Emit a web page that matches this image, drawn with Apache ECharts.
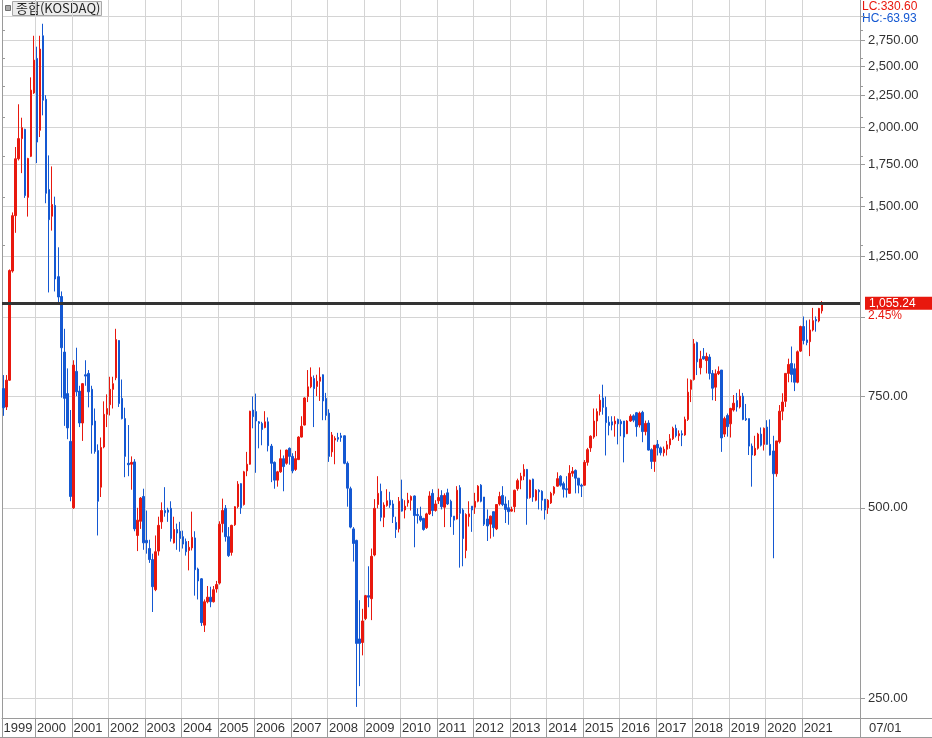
<!DOCTYPE html>
<html><head><meta charset="utf-8">
<script src="https://cdn.jsdelivr.net/npm/echarts@6/dist/echarts.min.js"></script>
<style>html,body{margin:0;padding:0;background:#fff}#chart{width:932px;height:738px}</style>
</head><body><div id="chart"></div>
<script>
// ---- data (monthly KOSDAQ candles, Feb 1999 .. Jul 2021) ----
const firstYear = 1999, firstMonth = 2;
const blankMonths = 12;
const open = [
772,722,796,1185,1450,1784,1920,1986,1550,1800,
2268,2572,1979,2793,2216,1595,1447,1505,1161,1080,
882,758,637,500,822,765,681,812,816,770,
686,616,539,624,703,728,770,803,920,745,
692,588,586,591,452,476,521,444,431,414,
371,427,475,495,496,499,440,462,459,450,
442,428,432,448,400,386,326,355,361,355,
372,380,472,499,450,425,470,502,546,506,
572,586,714,710,684,680,670,684,626,590,
553,570,598,588,621,603,575,596,647,676,
750,777,801,778,793,812,745,706,613,640,
646,650,650,588,536,463,444,310,306,334,
363,359,421,506,531,483,504,514,507,474,
463,516,496,509,514,522,488,485,481,465,
489,527,495,513,523,501,528,512,485,480,
538,496,428,484,503,501,512,543,520,480,
471,493,463,507,523,507,500,494,502,536,
553,561,575,519,555,514,533,531,516,500,
509,527,541,561,546,536,527,567,573,557,
543,543,590,622,647,686,710,746,721,683,
684,679,690,685,686,655,686,699,707,676,
708,660,681,618,592,630,622,611,619,629,
643,668,650,655,652,690,770,798,913,833,
868,855,866,816,776,815,826,654,700,679,
714,739,722,751,692,692,626,606,621,654,
630,671,630,615,566,636,711,737,816,846,
830,790,885,968,922,916,956,993,988,1025];
const close = [
720,796,1187,1450,1784,1920,1998,1560,1786,2291,
2556,1896,2661,2208,1573,1429,1510,1151,1078,896,
745,669,521,841,763,681,786,808,763,676,
614,512,623,703,718,770,786,923,731,692,
603,585,590,463,478,518,440,440,414,375,
426,469,495,491,492,447,462,456,447,438,
426,433,449,399,383,329,355,361,355,371,
378,471,495,450,420,469,502,545,500,570,
586,711,697,686,680,665,684,627,588,553,
570,598,581,617,603,572,598,647,673,746,
777,805,772,793,805,738,700,603,652,644,
642,646,588,537,466,439,305,305,331,363,
361,419,499,527,483,505,513,505,484,462,
512,494,503,514,521,486,486,478,462,489,
522,495,507,519,502,523,507,484,478,533,
490,447,488,489,496,512,541,512,471,468,
485,465,506,521,506,497,493,497,533,552,
561,575,517,553,520,533,530,514,496,514,
527,539,556,543,535,534,567,571,557,543,
541,590,618,649,686,710,740,721,682,675,
676,686,679,679,647,686,698,688,672,706,
660,680,617,592,628,622,611,619,629,643,
668,650,655,652,690,762,796,909,851,860,
860,868,816,773,815,822,645,692,672,718,
732,722,751,690,689,626,606,621,654,628,
668,630,606,566,638,711,735,816,843,813,
790,883,968,920,913,956,989,988,1034,1055];
const low = [
699,714,794,1178,1362,1773,1693,1547,1445,1795,
2260,1756,1931,2090,1517,1096,1373,1100,1058,747,
674,642,512,498,751,671,638,780,721,609,
609,452,520,621,671,700,718,796,722,690,
559,561,534,459,427,463,429,423,409,342,
369,420,463,484,475,442,439,429,426,431,
420,398,428,363,358,325,318,353,348,354,
367,378,457,442,418,420,468,499,489,504,
561,585,668,568,621,628,668,614,549,536,
540,568,531,585,585,567,572,595,646,675,
735,773,671,751,738,688,688,591,602,586,
636,636,586,502,464,411,242,261,292,332,
348,332,419,499,476,466,502,500,473,448,
457,493,481,502,495,433,472,475,460,463,
487,485,493,507,497,466,505,466,453,479,
402,404,416,467,458,489,510,510,468,443,
447,450,461,504,503,473,470,493,492,532,
535,553,470,517,511,512,497,495,479,489,
507,523,540,540,519,519,526,560,527,527,
520,542,583,613,643,649,700,702,605,651,
663,648,630,649,590,654,684,683,648,670,
635,651,616,576,570,605,605,603,605,620,
640,646,638,626,650,686,735,795,811,813,
858,816,798,740,738,811,613,647,648,646,
710,710,718,688,686,606,540,604,618,625,
616,629,605,416,560,632,688,722,790,790,
765,787,882,907,904,869,951,950,983,1015];
const high = [
811,811,1192,1467,1862,2176,2072,1990,1790,2400,
2793,2684,2793,2918,2249,1806,1735,1554,1292,1100,
960,831,714,856,896,780,788,856,826,780,
718,630,646,737,756,806,806,960,921,798,
720,676,603,597,500,520,536,495,445,423,
452,484,510,539,500,512,484,472,475,460,
447,443,493,459,402,387,358,376,375,376,
383,476,517,505,466,470,503,551,547,572,
613,712,750,758,686,684,711,695,631,592,
572,618,605,618,623,610,615,649,698,748,
826,834,810,812,834,813,760,716,659,649,
657,657,651,592,540,466,445,357,346,364,
404,431,516,561,546,510,535,530,514,484,
520,554,514,528,523,523,499,502,482,491,
531,535,514,536,533,527,536,515,485,541,
543,499,490,512,503,528,543,545,520,497,
486,493,506,530,541,521,514,502,534,556,
568,586,576,554,556,535,535,533,516,516,
530,541,569,563,550,561,584,580,575,557,
546,595,622,651,718,718,756,783,750,698,
698,698,692,690,686,688,703,703,709,710,
712,687,688,621,628,640,625,625,638,654,
672,677,663,663,697,801,798,925,916,886,
895,880,875,826,828,837,826,697,705,720,
754,760,770,760,730,692,632,650,657,670,
670,688,690,650,638,727,759,817,861,900,
846,887,971,1004,990,993,1036,1004,1036,1062];
const gridValues = [250,500,750,1000,1250,1500,1750,2000,2250,2500,2750,3000];
const labelValues = [250,500,750,1250,1500,1750,2000,2250,2500,2750];
const minorTickValues = [1300,1550,1800,2075,2325,2575,2850];
const axisMinValue = 232.4, axisMaxValue = 3182;
const lastPrice = 1055.24;
const lastChangeText = '2.45%';
const lcText = 'LC:330.60', hcText = 'HC:-63.93';
const dateText = '07/01';
const titleText = '종합(KOSDAQ)';

// ---- build ----
const RED = '#e8180e', BLUE = '#1458d2';
const L = Math.log;
const cats = [];
for (let k = 0; k < open.length + blankMonths; k++) {
  const m = firstMonth - 1 + k;
  const y = firstYear + Math.floor(m / 12);
  const mm = (m % 12) + 1;
  cats.push(y + '-' + (mm < 10 ? '0' + mm : '' + mm));
}
const isYearStart = (idx, val) => idx < open.length && (idx === 0 || String(val).endsWith('-01'));
const fmt = v => (Math.round(v * 100) / 100).toLocaleString('en-US', {minimumFractionDigits: 2, maximumFractionDigits: 2});
const candles = open.map((o, i) => [L(o), L(close[i]), L(low[i]), L(high[i])]);
const yMin = L(axisMinValue), yMax = L(axisMaxValue);
const AX = '#9a9a9a', GRIDC = '#d4d4d4';
const sansFont = '"Liberation Sans", Arial, sans-serif';

const chart = echarts.init(document.getElementById('chart'), null, {renderer: 'canvas'});
chart.setOption({
  animation: false,
  backgroundColor: '#ffffff',
  grid: {left: 2, right: 72, top: 0, bottom: 20, containLabel: false, outerBoundsMode: 'none'},
  xAxis: {
    type: 'category', data: cats, boundaryGap: true,
    axisLine: {show: true, lineStyle: {color: AX, width: 1}},
    axisTick: {show: true, interval: isYearStart, length: 20, lineStyle: {color: AX}},
    axisLabel: {interval: isYearStart, formatter: v => v.slice(0, 4), align: 'left', margin: 4,
      fontSize: 13, lineHeight: 13, fontFamily: sansFont, color: '#333',
      hideOverlap: false, showMinLabel: true, showMaxLabel: true},
    splitLine: {show: true, interval: isYearStart, lineStyle: {color: GRIDC, width: 1}}
  },
  yAxis: [
    {type: 'value', position: 'right', min: yMin, max: yMax,
      axisLine: {show: true, lineStyle: {color: AX}},
      axisTick: {show: true, customValues: gridValues.map(L), length: 5, lineStyle: {color: AX}},
      axisLabel: {show: true, customValues: labelValues.map(L), formatter: v => fmt(Math.exp(v)),
        margin: 8, fontSize: 13, fontFamily: sansFont, color: '#333'},
      splitLine: {show: true, lineStyle: {color: GRIDC, width: 1}}},
    {type: 'value', position: 'right', min: yMin, max: yMax,
      axisLine: {show: false},
      axisTick: {show: true, customValues: minorTickValues.map(L), length: 3, lineStyle: {color: AX}},
      axisLabel: {show: false}, splitLine: {show: false}},
    {type: 'value', position: 'left', min: yMin, max: yMax,
      axisLine: {show: true, lineStyle: {color: AX}},
      axisTick: {show: true, inside: true, customValues: minorTickValues.map(L), length: 3, lineStyle: {color: AX}},
      axisLabel: {show: false}, splitLine: {show: false}}
  ],
  series: [{
    type: 'candlestick', yAxisIndex: 0, data: candles, barWidth: 2,
    itemStyle: {color: RED, color0: BLUE, borderColor: RED, borderColor0: BLUE, borderWidth: 1},
    markLine: {
      symbol: 'none', silent: true, animation: false,
      data: [{yAxis: L(lastPrice)}],
      lineStyle: {color: '#333333', width: 3, type: 'solid'},
      label: {show: true, position: 'end', distance: 5, formatter: fmt(lastPrice),
        color: '#ffffff', backgroundColor: RED, padding: [1, 19, 0, 4], fontSize: 12, lineHeight: 12,
        fontFamily: sansFont}
    }
  }],
  graphic: [
    {type: 'rect', shape: {x: 5.5, y: 5.5, width: 5, height: 5}, style: {fill: '#a8a8a8', stroke: '#707070', lineWidth: 1}},
    {type: 'rect', shape: {x: 12.5, y: 1.5, width: 89, height: 14}, style: {fill: '#ececec', stroke: '#a8a8a8', lineWidth: 1}},
    {type: 'text', x: 16, y: 8.5, style: {text: titleText, fill: '#222', font: '13px "Noto Sans CJK KR", sans-serif', verticalAlign: 'middle'}},
    {type: 'text', x: 862, y: 6.5, style: {text: lcText, fill: RED, font: '12px ' + sansFont, verticalAlign: 'middle'}},
    {type: 'text', x: 862, y: 18.5, style: {text: hcText, fill: BLUE, font: '12px ' + sansFont, verticalAlign: 'middle'}},
    {type: 'text', x: 868, y: 316, style: {text: lastChangeText, fill: RED, font: '12px ' + sansFont, verticalAlign: 'middle'}},
    {type: 'text', x: 869, y: 728, style: {text: dateText, fill: '#333', font: '13px ' + sansFont, verticalAlign: 'middle'}},
    {type: 'line', shape: {x1: 860, y1: 718.5, x2: 932, y2: 718.5}, style: {stroke: AX, lineWidth: 1}},
    {type: 'line', shape: {x1: 860.5, y1: 718, x2: 860.5, y2: 738}, style: {stroke: AX, lineWidth: 1}},
    {type: 'line', shape: {x1: 0, y1: 737.5, x2: 932, y2: 737.5}, style: {stroke: AX, lineWidth: 1}}
  ]
});
</script></body></html>
